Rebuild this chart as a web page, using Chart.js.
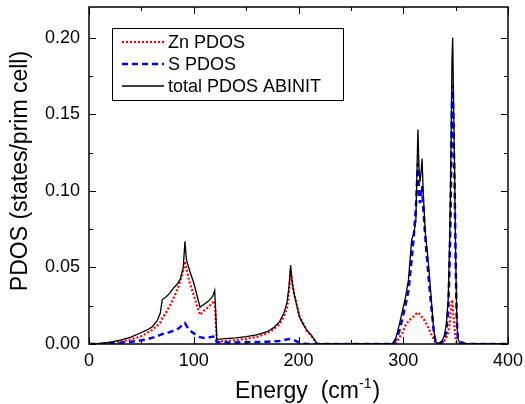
<!DOCTYPE html>
<html>
<head>
<meta charset="utf-8">
<script src="https://cdn.jsdelivr.net/npm/chart.js@4"></script>
<style>
  body { margin: 0; background: #fff; }
  #wrap { width: 525px; height: 404px; }
</style>
</head>
<body>
<div id="wrap"><canvas id="pdos" width="525" height="404"></canvas></div>
<script>
// energy grid (cm-1)
const energy = [0, 10, 20, 30, 40, 50, 55, 60, 65, 68, 70, 74, 77, 80, 84, 87, 90, 91.6, 93, 96,
    100, 103, 106, 110, 114, 118, 120, 121, 122, 130, 140, 150, 160, 170, 176, 182, 186, 189, 191, 192.5,
    194, 196, 198, 201, 204, 208, 212, 215, 218, 230, 250, 270, 285, 290, 293, 296, 299, 302, 305, 308,
    310, 312, 314, 315, 316, 317, 318, 319, 321, 324, 327, 329, 331, 334, 337, 339, 341, 343, 344.5, 345.5,
    346.5, 347.2, 348, 349, 350, 351, 352, 354, 356, 360, 380, 400];

const znPdos = [0, 0.0001, 0.0006, 0.0015, 0.003, 0.005, 0.007, 0.009, 0.012, 0.014, 0.017, 0.021, 0.025, 0.029, 0.035, 0.041, 0.048, 0.054, 0.049, 0.04,
    0.032, 0.025, 0.019, 0.022, 0.024, 0.027, 0.028, 0.015, 0.0015, 0.002, 0.0025, 0.0035, 0.0045, 0.007, 0.0095, 0.013, 0.018, 0.0235, 0.034, 0.048,
    0.04, 0.032, 0.027, 0.018, 0.014, 0.0085, 0.0055, 0.0028, 0, 0, 0, 0, 0, 0, 0.0005, 0.004, 0.007, 0.012, 0.015, 0.017,
    0.018, 0.0195, 0.0205, 0.02, 0.019, 0.018, 0.0175, 0.017, 0.0145, 0.0105, 0.006, 0.003, 0.0005, 0, 0.001, 0.002, 0.004, 0.008, 0.014, 0.022,
    0.0288, 0.026, 0.018, 0.01, 0.004, 0.001, 0, 0, 0, 0, 0, 0];

const sPdos = [0, 0, 0.0003, 0.0008, 0.0015, 0.0024, 0.003, 0.004, 0.005, 0.006, 0.0065, 0.007, 0.0078, 0.0085, 0.0095, 0.011, 0.013, 0.0137, 0.012, 0.009,
    0.007, 0.0055, 0.0045, 0.004, 0.0042, 0.0048, 0.005, 0.003, 0.0012, 0.001, 0.001, 0.0012, 0.0013, 0.0015, 0.0018, 0.002, 0.0025, 0.003, 0.0032, 0.0032,
    0.003, 0.0025, 0.0018, 0.001, 0.0005, 0, 0, 0, 0, 0, 0, 0, 0, 0, 0.003, 0.008, 0.016, 0.025, 0.035, 0.055,
    0.07, 0.088, 0.118, 0.1, 0.092, 0.098, 0.103, 0.09, 0.07, 0.045, 0.023, 0.009, 0.001, 0, 0.001, 0.003, 0.008, 0.022, 0.06, 0.1,
    0.155, 0.169, 0.14, 0.105, 0.055, 0.018, 0.004, 0.0015, 0.001, 0, 0, 0];

const totalPdos = [0, 0.0003, 0.0012, 0.0026, 0.0045, 0.0075, 0.009, 0.011, 0.015, 0.02, 0.029, 0.031, 0.033, 0.036, 0.039, 0.042, 0.05, 0.067, 0.055, 0.048,
    0.04, 0.032, 0.024, 0.026, 0.028, 0.031, 0.035, 0.02, 0.003, 0.0035, 0.004, 0.0048, 0.006, 0.008, 0.0105, 0.0146, 0.02, 0.027, 0.038, 0.0516,
    0.04, 0.032, 0.026, 0.0175, 0.0135, 0.009, 0.006, 0.003, 0, 0, 0, 0, 0, 0, 0.004, 0.012, 0.021, 0.03, 0.042, 0.068,
    0.072, 0.08, 0.14, 0.115, 0.106, 0.112, 0.121, 0.1, 0.073, 0.053, 0.027, 0.01, 0.001, 0.0005, 0.002, 0.005, 0.012, 0.03, 0.075, 0.12,
    0.185, 0.2, 0.16, 0.115, 0.06, 0.02, 0.004, 0.0005, 0, 0, 0, 0];

const seriesLabels = ["Zn PDOS", "S PDOS", "total PDOS ABINIT"];
const xTicks = [0, 100, 200, 300, 400];
const yTicks = [0, 0.05, 0.10, 0.15, 0.20];

const toPoints = vals => energy.map((e, i) => ({ x: e, y: vals[i] }));

const noPad = s => { s.paddingTop = 0; s.paddingBottom = 0; s.paddingLeft = 0; s.paddingRight = 0; };

// frame, inward ticks on all sides, axis titles and the boxed legend
const framePlugin = {
    id: "frame",
    afterDatasetsDraw(chart) {
        const { ctx, chartArea: a, scales } = chart;
        const xs = scales.x, ys = scales.y;
        ctx.save();
        ctx.strokeStyle = "#000";
        ctx.lineWidth = 1.5;
        ctx.strokeRect(a.left, a.top, a.right - a.left, a.bottom - a.top);

        ctx.lineWidth = 1;
        ctx.beginPath();
        for (let v = 0; v <= 400; v += 50) {
            const px = Math.round(xs.getPixelForValue(v)) + 0.5;
            const len = v % 100 === 0 ? 7 : 4;
            ctx.moveTo(px, a.bottom); ctx.lineTo(px, a.bottom - len);
            ctx.moveTo(px, a.top); ctx.lineTo(px, a.top + len);
        }
        for (let k = 0; k <= 8; k++) {
            const v = k * 0.025;
            const py = Math.round(ys.getPixelForValue(v)) + 0.5;
            const len = k % 2 === 0 ? 7 : 4;
            ctx.moveTo(a.left, py); ctx.lineTo(a.left + len, py);
            ctx.moveTo(a.right, py); ctx.lineTo(a.right - len, py);
        }
        ctx.stroke();

        // y title
        ctx.fillStyle = "#000";
        ctx.font = "23px 'Liberation Sans', Arial, sans-serif";
        ctx.save();
        ctx.translate(27, 171);
        ctx.rotate(-Math.PI / 2);
        ctx.textAlign = "center";
        ctx.textBaseline = "alphabetic";
        ctx.fillText("PDOS (states/prim cell)", 0, 0);
        ctx.restore();

        // x title with superscript
        ctx.textAlign = "left";
        ctx.textBaseline = "alphabetic";
        let x = 235;
        const base = 398;
        ctx.font = "23px 'Liberation Sans', Arial, sans-serif";
        ctx.fillText("Energy  (cm", x, base);
        x += ctx.measureText("Energy  (cm").width;
        ctx.font = "14px 'Liberation Sans', Arial, sans-serif";
        ctx.fillText("-1", x, base - 10);
        x += ctx.measureText("-1").width + 1;
        ctx.font = "23px 'Liberation Sans', Arial, sans-serif";
        ctx.fillText(")", x, base);

        // legend
        ctx.fillStyle = "#fff";
        ctx.fillRect(112, 28, 231, 72);
        ctx.lineWidth = 1;
        ctx.strokeRect(112.5, 28.5, 231, 72);
        ctx.font = "18px 'Liberation Sans', Arial, sans-serif";
        ctx.textBaseline = "middle";
        chart.data.datasets.forEach((ds, i) => {
            const y = 42 + i * 22;
            ctx.strokeStyle = ds.borderColor;
            ctx.lineWidth = ds.borderWidth;
            ctx.setLineDash(ds.borderDash || []);
            ctx.beginPath();
            ctx.moveTo(122, y); ctx.lineTo(164, y);
            ctx.stroke();
            ctx.setLineDash([]);
            ctx.fillStyle = "#000";
            ctx.fillText(ds.label, 168, y + 1);
        });
        ctx.restore();
    }
};

new Chart(document.getElementById("pdos"), {
    type: "line",
    data: {
        datasets: [
            { label: seriesLabels[0], data: toPoints(znPdos), borderColor: "#ff0000", borderWidth: 2.2, borderDash: [2, 2], order: 3 },
            { label: seriesLabels[1], data: toPoints(sPdos), borderColor: "#0000ff", borderWidth: 2.5, borderDash: [6, 4], order: 2 },
            { label: seriesLabels[2], data: toPoints(totalPdos), borderColor: "#000000", borderWidth: 1.3, order: 1 }
        ]
    },
    options: {
        responsive: false,
        animation: false,
        layout: { padding: { left: 0, top: 7, right: 17, bottom: 0 } },
        elements: { point: { radius: 0 }, line: { tension: 0, fill: false } },
        plugins: { legend: { display: false }, tooltip: { enabled: false } },
        scales: {
            x: {
                type: "linear", min: 0, max: 400,
                grid: { display: false, drawTicks: false },
                border: { display: false },
                afterBuildTicks: s => { s.ticks = xTicks.map(v => ({ value: v })); },
                afterFit: s => { s.height = 60; noPad(s); },
                ticks: { color: "#000", padding: 6, font: { size: 18, family: "'Liberation Sans', Arial" }, maxRotation: 0 }
            },
            y: {
                type: "linear", min: 0, max: 0.22,
                grid: { display: false, drawTicks: false },
                border: { display: false },
                afterBuildTicks: s => { s.ticks = yTicks.map(v => ({ value: v })); },
                afterFit: s => { s.width = 89; noPad(s); },
                ticks: { color: "#000", padding: 9, font: { size: 18, family: "'Liberation Sans', Arial" },
                    callback: v => v.toFixed(2) }
            }
        }
    },
    plugins: [framePlugin]
});
</script>
</body>
</html>
